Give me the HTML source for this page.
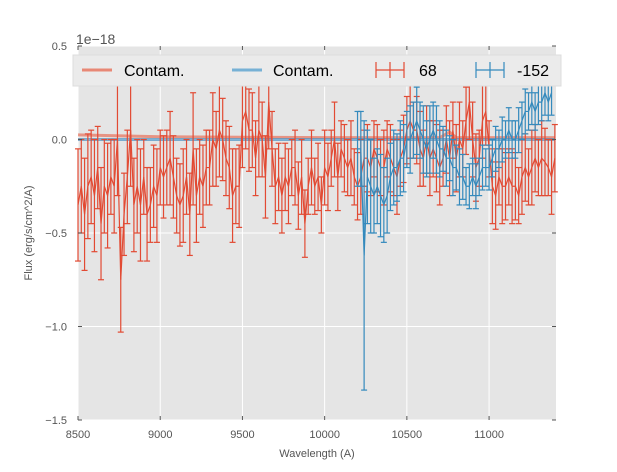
<!DOCTYPE html>
<html><head><meta charset="utf-8"><style>
body{margin:0;background:#fff;font-family:"Liberation Sans",sans-serif;}
svg text{font-family:"Liberation Sans",sans-serif;}
</style></head><body>
<svg id="chart" width="617" height="467" xmlns="http://www.w3.org/2000/svg">
<rect x="78" y="46" width="478" height="374" fill="#e5e5e5"/>
<g id="grid"></g>
<g id="series"></g>
<g id="ticks"></g>
<text x="76" y="44" font-size="14" fill="#555">1e−18</text>
<text x="317" y="457" font-size="11" text-anchor="middle" fill="#555">Wavelength (A)</text>
<text x="32" y="233" font-size="11" text-anchor="middle" fill="#555" transform="rotate(-90 32 233)">Flux (erg/s/cm^2/A)</text>
<g>
<rect x="73" y="55" width="488" height="31" fill="#ebebeb" stroke="#ddd" stroke-width="1"/>
<g><line x1="82" y1="70" x2="112" y2="70" stroke="#e8705a" stroke-width="3" opacity="0.8"/><text x="124" y="76" font-size="16" fill="#000">Contam.</text></g>
<g><line x1="232" y1="70" x2="262" y2="70" stroke="#5ba3d0" stroke-width="3" opacity="0.8"/><text x="273" y="76" font-size="16" fill="#000">Contam.</text></g>
<g stroke="#e24a33" stroke-width="1.2"><line x1="376" y1="70" x2="404" y2="70"/><line x1="390" y1="62" x2="390" y2="78"/><line x1="376" y1="62" x2="376" y2="78"/><line x1="404" y1="62" x2="404" y2="78"/></g>
<text x="419" y="76" font-size="16" fill="#000">68</text>
<g stroke="#348abd" stroke-width="1.2"><line x1="476" y1="70" x2="504" y2="70"/><line x1="490" y1="62" x2="490" y2="78"/><line x1="476" y1="62" x2="476" y2="78"/><line x1="504" y1="62" x2="504" y2="78"/></g>
<text x="517" y="76" font-size="16" fill="#000">-152</text>
</g>
</svg>
<script>
const xTicks=[8500,9000,9500,10000,10500,11000];
const yTicks=[-1.5,-1.0,-0.5,0.0,0.5];
const yTickLabels=["−1.5","−1.0","−0.5","0.0","0.5"];
const redStart=8500, redStep=20;
const redValues=[-0.35,-0.25,-0.4,-0.25,-0.2,-0.3,-0.15,-0.45,-0.25,-0.3,
-0.2,-0.25,0.0,-0.75,-0.4,-0.2,0.05,-0.35,-0.25,-0.35,
-0.2,-0.4,-0.35,-0.25,-0.3,-0.15,-0.2,-0.15,-0.1,-0.2,
-0.3,-0.35,-0.3,-0.2,-0.4,-0.05,-0.3,-0.2,-0.25,-0.15,
-0.15,0.0,-0.05,0.05,0.0,-0.1,-0.15,-0.3,-0.25,-0.25,
0.1,0.15,0.05,0.05,-0.1,0.05,0.0,-0.2,0.2,-0.05,
-0.25,-0.2,-0.3,-0.2,-0.25,-0.15,-0.15,-0.3,-0.2,-0.45,
-0.25,-0.15,-0.25,-0.2,-0.35,-0.15,-0.2,-0.1,0.0,-0.2,
-0.05,-0.1,-0.15,-0.1,-0.2,-0.25,-0.2,-0.1,-0.1,-0.15,
-0.05,-0.1,-0.15,-0.15,-0.05,-0.1,-0.15,-0.2,-0.1,-0.05,
0.05,0.1,0.05,0.05,-0.05,-0.1,0.0,-0.1,-0.05,-0.1,
-0.15,-0.1,0.0,-0.1,0.05,-0.1,0.0,-0.05,0.1,0.2,
0.0,-0.15,-0.1,0.1,0.15,-0.05,-0.25,-0.3,-0.2,-0.25,
-0.25,-0.2,-0.25,-0.25,-0.3,-0.2,-0.15,-0.2,-0.15,-0.1,
-0.15,-0.1,-0.12,-0.15,-0.2,-0.1];
const redErrors=[0.3,0.25,0.3,0.28,0.25,0.3,0.22,0.3,0.25,0.28,
0.2,0.25,0.3,0.28,0.22,0.25,0.3,0.25,0.25,0.3,
0.2,0.25,0.2,0.22,0.25,0.2,0.22,0.2,0.25,0.22,
0.2,0.22,0.25,0.2,0.22,0.3,0.25,0.2,0.22,0.2,
0.2,0.25,0.2,0.25,0.22,0.2,0.22,0.25,0.2,0.22,
0.25,0.2,0.22,0.2,0.2,0.25,0.2,0.22,0.25,0.2,
0.2,0.18,0.2,0.18,0.2,0.15,0.2,0.18,0.2,0.18,
0.15,0.2,0.15,0.18,0.15,0.2,0.18,0.15,0.2,0.18,
0.15,0.18,0.15,0.2,0.15,0.18,0.2,0.15,0.18,0.15,
0.15,0.18,0.15,0.2,0.15,0.18,0.15,0.2,0.15,0.18,
0.18,0.2,0.15,0.18,0.2,0.15,0.18,0.2,0.15,0.18,
0.2,0.15,0.18,0.2,0.15,0.18,0.2,0.15,0.18,0.2,
0.2,0.18,0.15,0.2,0.18,0.15,0.2,0.18,0.15,0.2,
0.18,0.15,0.2,0.18,0.15,0.2,0.18,0.15,0.2,0.18,
0.15,0.2,0.18,0.15,0.2,0.18];
const blueStart=10200, blueStep=20;
const blueValues=[-0.05,-0.05,-0.62,-0.2,-0.25,-0.3,-0.25,-0.3,
-0.35,-0.3,-0.2,-0.15,-0.15,-0.1,-0.1,0.0,0.0,0.05,
0.1,0.05,0.0,-0.05,0.0,0.05,0.0,-0.05,-0.05,-0.1,
-0.1,-0.15,-0.15,-0.2,-0.2,-0.25,-0.25,-0.2,-0.25,-0.2,
-0.15,-0.15,-0.15,-0.1,-0.05,-0.05,0.0,0.0,0.05,0.0,
0.0,0.05,0.1,0.15,0.15,0.2,0.15,0.2,0.2,0.25,
0.2,0.25];
const blueErrors=[0.2,0.2,0.72,0.25,0.25,0.2,0.2,0.22,
0.2,0.2,0.18,0.2,0.18,0.2,0.18,0.15,0.18,0.15,
0.18,0.15,0.18,0.15,0.18,0.15,0.18,0.15,0.12,0.15,
0.12,0.15,0.12,0.15,0.12,0.1,0.12,0.1,0.12,0.1,
0.12,0.1,0.12,0.1,0.12,0.1,0.12,0.1,0.12,0.1,
0.1,0.12,0.1,0.12,0.1,0.12,0.1,0.12,0.1,0.12,
0.1,0.12];
const contamRedX=[8500,9000,9500,10000,10700,10760,10800,11400];
const contamRedY=[0.025,0.015,0.012,0.01,0.01,0.04,0.01,0.01];
const contamBlueX=[8500,11400];
const contamBlueY=[0.0,0.0];

const X0=78,X1=556,Y0=420,Y1=46,xMin=8500,xMax=11407,yMin=-1.5,yMax=0.5;
const sx=v=>X0+(v-xMin)/(xMax-xMin)*(X1-X0);
const sy=v=>Y0-(v-yMin)/(yMax-yMin)*(Y0-Y1);
const NS="http://www.w3.org/2000/svg";
function mk(tag,attrs,parent){const e=document.createElementNS(NS,tag);for(const k in attrs)e.setAttribute(k,attrs[k]);parent.appendChild(e);return e;}
const grid=document.getElementById('grid'),ticks=document.getElementById('ticks'),ser=document.getElementById('series');
xTicks.forEach(t=>{
 const g=mk('line',{x1:sx(t),x2:sx(t),y1:Y1,y2:Y0,stroke:'#fff','stroke-width':1},grid);
 
 
 mk('line',{x1:sx(t),x2:sx(t),y1:Y0,y2:Y0-4,stroke:'#555'},ticks);
 mk('line',{x1:sx(t),x2:sx(t),y1:Y1,y2:Y1+4,stroke:'#555'},ticks);
 const tl=mk('text',{x:sx(t),y:Y0+18,'font-size':11,'text-anchor':'middle',fill:'#555'},ticks);
 tl.textContent=t;
 
 
});
yTicks.forEach((t,i)=>{
 const g=mk('line',{x1:X0,x2:X1,y1:sy(t),y2:sy(t),stroke:'#fff','stroke-width':1},grid);
 
 
 mk('line',{x1:X0,x2:X0+4,y1:sy(t),y2:sy(t),stroke:'#555'},ticks);
 mk('line',{x1:X1,x2:X1-4,y1:sy(t),y2:sy(t),stroke:'#555'},ticks);
 const tl=mk('text',{x:X0-11,y:sy(t)+4,'font-size':11,'text-anchor':'end',fill:'#555'},ticks);
 tl.textContent=yTickLabels[i];
 
 
});
function contam(xs,ys,color,name){
 const p=mk('polyline',{points:xs.map((x,i)=>sx(x)+','+sy(ys[i])).join(' '),fill:'none',stroke:color,'stroke-width':3,opacity:0.7},ser);
 
 
}
function errSeries(start,step,vals,errs,color,name){
 const g=mk('g',{stroke:color,'stroke-width':1.2,fill:'none'},ser);
 
 
 vals.forEach((v,i)=>{
  const x=sx(start+i*step);
  mk('line',{x1:x,x2:x,y1:sy(v-errs[i]),y2:sy(v+errs[i])},g);
  mk('line',{x1:x-3,x2:x+3,y1:sy(v-errs[i]),y2:sy(v-errs[i])},g);
  mk('line',{x1:x-3,x2:x+3,y1:sy(v+errs[i]),y2:sy(v+errs[i])},g);
 });
 mk('polyline',{points:vals.map((v,i)=>sx(start+i*step)+','+sy(v)).join(' ')},g);
}
contam(contamRedX,contamRedY,'#e8705a','contam-red-line');
contam(contamBlueX,contamBlueY,'#4a93c5','contam-blue-line');
errSeries(redStart,redStep,redValues,redErrors,'#e24a33','series-68');
errSeries(blueStart,blueStep,blueValues,blueErrors,'#348abd','series-minus152');
</script>
</body></html>
